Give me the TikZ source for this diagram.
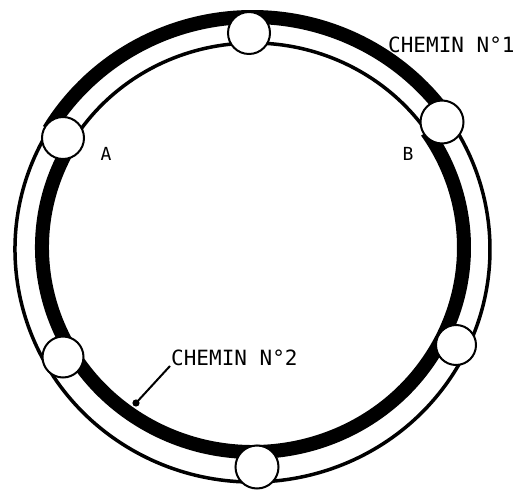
\documentclass[tikz,border=0pt]{standalone}
\usepackage{fontspec}
\usetikzlibrary{calc}
\newfontfamily\plotfont{DejaVu Sans Mono}
\begin{document}
\begin{tikzpicture}[x=1pt,y=1pt,
  thinring/.style={line width=3.5pt},
  thickring/.style={line width=14pt},
  station/.style={circle,draw,fill=white,line width=2pt,inner sep=0pt},
  lbl/.style={font=\plotfont\fontsize{21}{21}\selectfont,inner sep=0pt},
  ptlbl/.style={font=\plotfont\fontsize{18}{18}\selectfont,inner sep=0pt}]
\useasboundingbox (0,0) rectangle (524,490);
% outer ring
\coordinate (oc) at (252.5,240.5);
\coordinate (ic) at (253,242.5);
\draw[thickring] ($(oc)+(34.5:237.5 and 232.5)$) arc[start angle=34.5,end angle=149,x radius=237.5,y radius=232.5];
\draw[thinring] ($(oc)+(149:237.5 and 232.5)$) arc[start angle=149,end angle=394.5,x radius=237.5,y radius=232.5];
% inner ring
\draw[thinring] ($(ic)+(34.5:211 and 204.5)$) arc[start angle=34.5,end angle=149,x radius=211,y radius=204.5];
\draw[thickring] ($(ic)+(149:211 and 204.5)$) arc[start angle=149,end angle=394.5,x radius=211,y radius=204.5];
% stations
\node[station,minimum size=42pt] (top) at (249,457) {};
\node[station,minimum size=43pt] (b) at (442,368) {};
\node[station,minimum size=42pt] (a) at (63,352) {};
\node[station,minimum size=41pt] (ll) at (63,133) {};
\node[station,minimum size=40pt] (lr) at (456,145) {};
\node[station,minimum size=43pt] (bot) at (257,23) {};
% labels
\node[ptlbl] (la) at (106,336.5) {A};
\node[ptlbl] (lb) at (408,336) {B};
\node[lbl,anchor=base west] (c1) at (388,437) {CHEMIN N°1};
\node[lbl,anchor=base west] (c2) at (171,125) {CHEMIN N°2};
\coordinate (tip) at (136,87);
\draw[line width=2pt] ([xshift=-1pt,yshift=-1pt]c2.base west) -- (tip);
\fill (tip) circle (3.6pt);
\end{tikzpicture}
\end{document}
